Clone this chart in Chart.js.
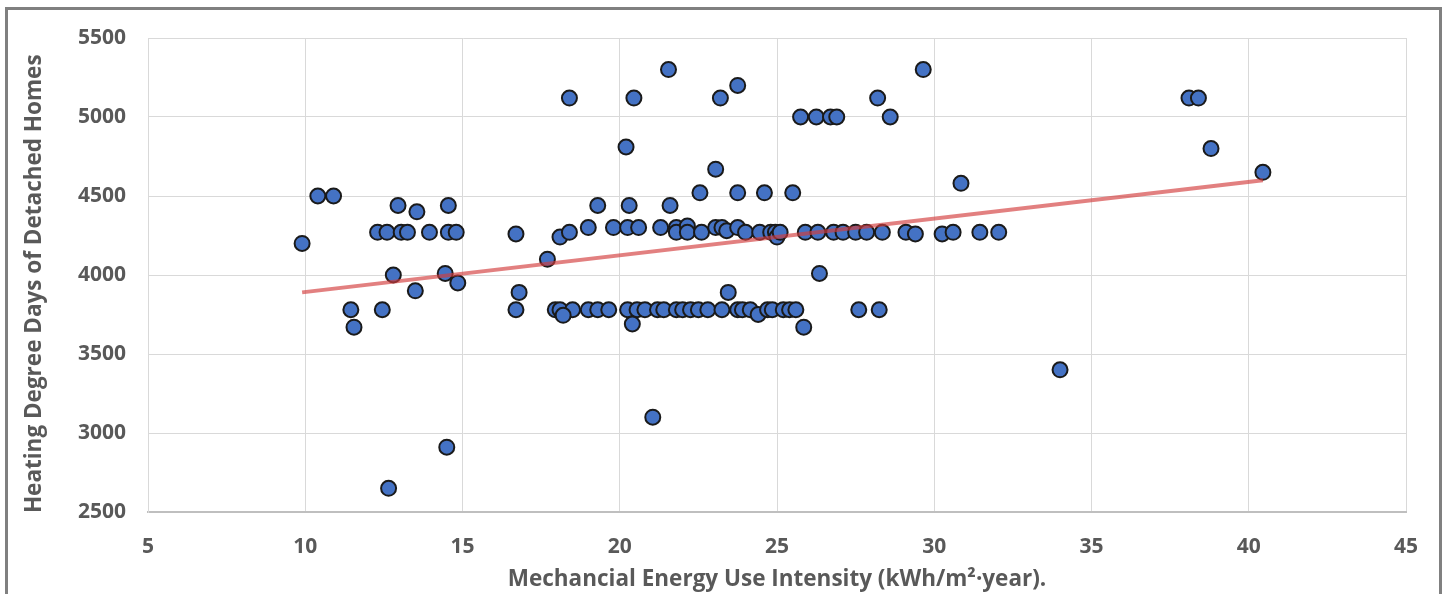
<!DOCTYPE html>
<html>
<head>
<meta charset="utf-8">
<script src="https://cdn.jsdelivr.net/npm/chart.js@4.4.1/dist/chart.umd.min.js"></script>
<style>
    html, body { margin: 0; padding: 0; background: #fff; }
    #wrap { position: relative; width: 1448px; height: 594px; overflow: hidden; }
    #frame { position: absolute; left: 5px; top: 7px; width: 1431px; height: 620px; border: 3px solid #808080; }
    #chart { position: absolute; left: 0; top: 0; }
</style>
</head>
<body>
<div id="wrap">
    <div id="frame"></div>
    <canvas id="chart" width="1448" height="594"></canvas>
</div>
<script>
// scatter points
const euiValues = [
    9.9, 10.4, 10.9, 12.3, 12.6, 12.95, 13.05, 13.25, 13.55, 13.95, 14.55, 14.55, 14.8,
    12.8, 14.45, 13.5, 14.85, 11.45, 12.45, 11.55, 12.65, 14.5,
    16.7, 16.8, 16.7, 17.7, 18.1, 18.4, 18.4, 19.0, 19.3, 19.8, 20.25, 20.3, 20.6, 20.2, 20.45,
    21.3, 21.6, 21.55, 21.8, 21.8, 22.15, 22.15, 22.55, 22.6, 23.05, 23.05, 23.25, 23.4,
    23.75, 23.75, 23.2, 23.75, 24.0, 24.45, 24.6, 24.8, 24.95, 25.0, 25.1, 25.5,
    25.75, 25.9, 26.25, 26.3, 26.7, 26.9, 26.8, 27.1, 27.5, 27.85, 28.2, 28.35, 28.6,
    29.65, 29.1, 29.4, 30.25, 30.6, 30.85, 31.45, 32.05, 26.35, 23.45, 34.0, 21.05,
    38.1, 38.4, 38.8, 40.45,
    17.95, 18.1, 18.5, 19.0, 19.3, 19.65, 20.25, 20.55, 20.8, 21.2, 21.4, 21.8, 22.0,
    22.25, 22.5, 22.8, 23.25, 23.75, 23.9, 24.15, 24.4, 24.7, 24.85, 25.2, 25.4, 25.6,
    27.6, 28.25, 18.2, 20.4, 25.85
];
const hddValues = [
    4200, 4500, 4500, 4270, 4270, 4440, 4270, 4270, 4400, 4270, 4440, 4270, 4270,
    4000, 4010, 3900, 3950, 3780, 3780, 3670, 2650, 2910,
    4260, 3890, 3780, 4100, 4240, 4270, 5120, 4300, 4440, 4300, 4300, 4440, 4300, 4810, 5120,
    4300, 4440, 5300, 4300, 4270, 4310, 4270, 4520, 4270, 4670, 4300, 4300, 4280,
    4300, 4520, 5120, 5200, 4270, 4270, 4520, 4270, 4270, 4240, 4270, 4520,
    5000, 4270, 5000, 4270, 5000, 5000, 4270, 4270, 4270, 4270, 5120, 4270, 5000,
    5300, 4270, 4260, 4260, 4270, 4580, 4270, 4270, 4010, 3890, 3400, 3100,
    5120, 5120, 4800, 4650,
    3780, 3780, 3780, 3780, 3780, 3780, 3780, 3780, 3780, 3780, 3780, 3780, 3780,
    3780, 3780, 3780, 3780, 3780, 3780, 3780, 3750, 3780, 3780, 3780, 3780, 3780,
    3780, 3780, 3745, 3690, 3670
];

// linear trendline end points
const trendX = [9.9, 40.45];
const trendY = [3890, 4600];

const xTicks = [5, 10, 15, 20, 25, 30, 35, 40, 45];
const yTicks = [2500, 3000, 3500, 4000, 4500, 5000, 5500];

const points = euiValues.map((x, i) => ({ x: x, y: hddValues[i] }));
const trend = trendX.map((x, i) => ({ x: x, y: trendY[i] }));

const labelFont = { family: 'Open Sans', size: 21, weight: 'bold' };
const titleFont = { family: 'Open Sans', size: 22.5, weight: 'bold' };

new Chart(document.getElementById('chart'), {
    type: 'scatter',
    data: {
        datasets: [
            {
                label: 'Trend',
                data: trend,
                showLine: true,
                borderColor: 'rgba(210, 60, 60, 0.65)',
                borderWidth: 4,
                pointRadius: 0,
                order: 0
            },
            {
                label: 'HDD',
                data: points,
                backgroundColor: '#4472C4',
                borderColor: '#1a1a1a',
                borderWidth: 2,
                pointRadius: 7.5,
                order: 1
            }
        ]
    },
    options: {
        responsive: false,
        animation: false,
        layout: { padding: { left: 0, top: 38, right: 42, bottom: 0 } },
        plugins: {
            legend: { display: false },
            tooltip: { enabled: false }
        },
        scales: {
            x: {
                type: 'linear',
                min: xTicks[0],
                max: xTicks[xTicks.length - 1],
                afterBuildTicks: s => { s.ticks = xTicks.map(v => ({ value: v })); },
                afterFit: s => { s.height = 82; },
                grid: { color: '#d9d9d9', drawTicks: false },
                border: { color: '#bfbfbf', width: 2 },
                ticks: { color: '#595959', font: labelFont, padding: 22, callback: v => String(v) },
                title: {
                    display: true,
                    text: 'Mechancial Energy Use Intensity (kWh/m²·year).',
                    color: '#595959',
                    font: titleFont,
                    padding: { top: 0, bottom: 1 }
                }
            },
            y: {
                type: 'linear',
                min: yTicks[0],
                max: yTicks[yTicks.length - 1],
                afterBuildTicks: s => { s.ticks = yTicks.map(v => ({ value: v })); },
                afterFit: s => { s.width = 148; },
                grid: { color: '#d9d9d9', drawTicks: false },
                border: { color: '#d9d9d9', width: 1 },
                ticks: { color: '#595959', font: labelFont, padding: 22, callback: v => String(v) },
                title: {
                    display: true,
                    text: 'Heating Degree Days of Detached Homes\u00a0\u00a0\u00a0',
                    color: '#595959',
                    font: titleFont,
                    padding: { top: 21, bottom: 0 }
                }
            }
        }
    }
});
</script>
</body>
</html>
